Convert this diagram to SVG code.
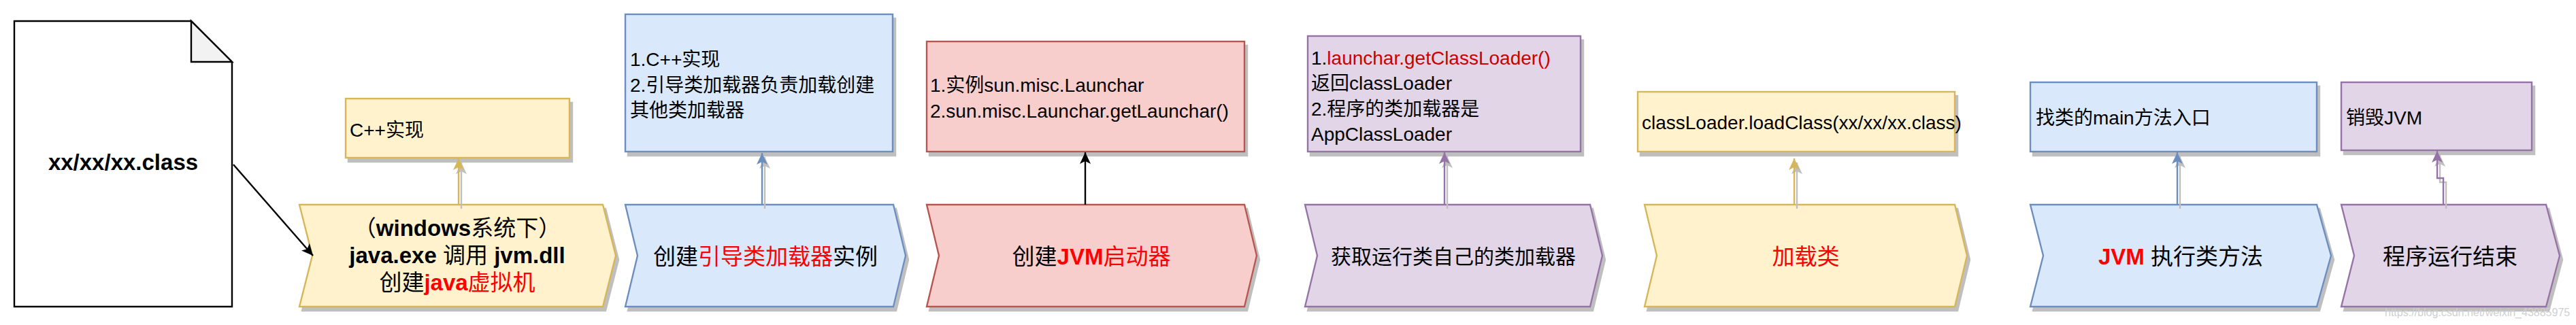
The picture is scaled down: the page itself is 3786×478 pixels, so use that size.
<svg xmlns="http://www.w3.org/2000/svg" width="3786" height="478" viewBox="0 0 3786 478">
<style>
text{font-family:"Liberation Sans","Noto Sans CJK SC",sans-serif;fill:#000}
.big{font-size:33px}
.sm{font-size:28px}
.b{font-weight:bold}
.r{fill:#ff0000}
.dr{fill:#cc0000}
.y{fill:#fff2cc;stroke:#d6b656;stroke-width:2.4}
.bl{fill:#dae8fc;stroke:#6c8ebf;stroke-width:2.4}
.rd{fill:#f8cecc;stroke:#b85450;stroke-width:2.4}
.pu{fill:#e1d5e7;stroke:#9673a6;stroke-width:2.4}
.ln{fill:none;stroke-width:2.4}
</style>
<defs>
<filter id="sh" filterUnits="userSpaceOnUse" x="0" y="0" width="3786" height="478">
<feFlood flood-color="#bfbfbf"/>
<feComposite in2="SourceAlpha" operator="in"/>
<feOffset dx="4" dy="6"/>
<feMerge><feMergeNode/><feMergeNode in="SourceGraphic"/></feMerge>
</filter>
<marker id="aK" markerUnits="userSpaceOnUse" markerWidth="18" markerHeight="16" refX="17" refY="8" orient="auto"><path d="M0,0 L17,8 L0,16 L4,8 Z" fill="#000"/></marker>
<marker id="aY" markerUnits="userSpaceOnUse" markerWidth="18" markerHeight="16" refX="17" refY="8" orient="auto"><path d="M0,0 L17,8 L0,16 L4,8 Z" fill="#d6b656"/></marker>
<marker id="aB" markerUnits="userSpaceOnUse" markerWidth="18" markerHeight="16" refX="17" refY="8" orient="auto"><path d="M0,0 L17,8 L0,16 L4,8 Z" fill="#6c8ebf"/></marker>
<marker id="aP" markerUnits="userSpaceOnUse" markerWidth="18" markerHeight="16" refX="17" refY="8" orient="auto"><path d="M0,0 L17,8 L0,16 L4,8 Z" fill="#9673a6"/></marker>
</defs>
<rect width="3786" height="478" fill="#fff"/>

<g id="doc">
<path d="M21,31 L281,31 L341,91 L341,451 L21,451 Z" fill="#fff" stroke="#000" stroke-width="2.4"/>
<path d="M281,31 L281,91 L341,91 Z" fill="#f2f2f2" stroke="#000" stroke-width="2.4" stroke-linejoin="miter"/>
<text class="big b" x="181" y="250" text-anchor="middle">xx/xx/xx.class</text>
</g>

<g id="step1" filter="url(#sh)">
<path class="y" d="M440,301 L886,301 L905,376 L886,451 L440,451 L459,376 Z"/>
</g>
<g id="step1-text">
<text class="big" x="672" y="347" text-anchor="middle">（<tspan class="b">windows</tspan>系统下）</text>
<text class="big" x="672" y="387" text-anchor="middle"><tspan class="b">java.exe</tspan> 调用 <tspan class="b">jvm.dll</tspan></text>
<text class="big" x="672" y="427" text-anchor="middle">创建<tspan class="b r">java</tspan><tspan class="r">虚拟机</tspan></text>
</g>
<g id="note1" filter="url(#sh)"><rect class="y" x="508" y="145" width="329" height="87"/></g>
<text class="sm" x="514" y="201">C++实现</text>

<g id="step2" filter="url(#sh)"><path class="bl" d="M919,301 L1313,301 L1331,376 L1313,451 L919,451 L937,376 Z"/></g>
<text class="big" x="1125" y="389" text-anchor="middle">创建<tspan class="r">引导类加载器</tspan>实例</text>
<g id="note2" filter="url(#sh)"><rect class="bl" x="919" y="21" width="393" height="202"/></g>
<g id="note2-text">
<text class="sm" x="926" y="97">1.C++实现</text>
<text class="sm" x="926" y="135">2.引导类加载器负责加载创建</text>
<text class="sm" x="926" y="172">其他类加载器</text>
</g>

<g id="step3" filter="url(#sh)"><path class="rd" d="M1362,301 L1829,301 L1847,376 L1829,451 L1362,451 L1380,376 Z"/></g>
<text class="big" x="1604" y="389" text-anchor="middle">创建<tspan class="b r">JVM</tspan><tspan class="r">启动器</tspan></text>
<g id="note3" filter="url(#sh)"><rect class="rd" x="1362" y="61" width="467" height="162"/></g>
<g id="note3-text">
<text class="sm" x="1367" y="135">1.实例sun.misc.Launchar</text>
<text class="sm" x="1367" y="173">2.sun.misc.Launchar.getLaunchar()</text>
</g>

<g id="step4" filter="url(#sh)"><path class="pu" d="M1918,301 L2337,301 L2355,376 L2337,451 L1918,451 L1936,376 Z"/></g>
<text x="2136" y="388" text-anchor="middle" style="font-size:30px">获取运行类自己的类加载器</text>
<g id="note4" filter="url(#sh)"><rect class="pu" x="1922" y="53" width="401" height="170"/></g>
<g id="note4-text">
<text class="sm" x="1927" y="95">1.<tspan class="dr">launchar.getClassLoader()</tspan></text>
<text class="sm" x="1927" y="132">返回classLoader</text>
<text class="sm" x="1927" y="170">2.程序的类加载器是</text>
<text class="sm" x="1927" y="207">AppClassLoader</text>
</g>

<g id="step5" filter="url(#sh)"><path class="y" d="M2417,301 L2873,301 L2891,376 L2873,451 L2417,451 L2435,376 Z"/></g>
<text class="big r" x="2654" y="389" text-anchor="middle">加载类</text>
<g id="note5" filter="url(#sh)"><rect class="y" x="2407" y="135" width="466" height="88"/></g>
<text class="sm" x="2413" y="190">classLoader.loadClass(xx/xx/xx.class)</text>

<g id="step6" filter="url(#sh)"><path class="bl" d="M2984,301 L3405,301 L3426,376 L3405,451 L2984,451 L3003,376 Z"/></g>
<text class="big" x="3205" y="389" text-anchor="middle"><tspan class="b r">JVM</tspan> 执行类方法</text>
<g id="note6" filter="url(#sh)"><rect class="bl" x="2984" y="121" width="421" height="102"/></g>
<text class="sm" x="2992" y="183">找类的main方法入口</text>

<g id="step7" filter="url(#sh)"><path class="pu" d="M3441,301 L3742,301 L3762,376 L3742,451 L3441,451 L3460,376 Z"/></g>
<text class="big" x="3601" y="389" text-anchor="middle">程序运行结束</text>
<g id="note7" filter="url(#sh)"><rect class="pu" x="3441" y="121" width="280" height="100"/></g>
<text class="sm" x="3448" y="183">销毁JVM</text>

<g id="connectors">
<path class="ln" d="M343,242 L460,376" stroke="#000" marker-end="url(#aK)"/>
<path class="ln" d="M674,301 L674,233" stroke="#d6b656" marker-end="url(#aY)" filter="url(#sh)"/>
<path class="ln" d="M1120,301 L1120,225" stroke="#6c8ebf" marker-end="url(#aB)" filter="url(#sh)"/>
<path class="ln" d="M1595,301 L1595,224" stroke="#000" marker-end="url(#aK)"/>
<path class="ln" d="M2123,301 L2123,224" stroke="#9673a6" marker-end="url(#aP)" filter="url(#sh)"/>
<path class="ln" d="M2637,301 L2637,233" stroke="#d6b656" marker-end="url(#aY)" filter="url(#sh)"/>
<path class="ln" d="M3200,301 L3200,224" stroke="#6c8ebf" marker-end="url(#aB)" filter="url(#sh)"/>
<path class="ln" d="M3591,301 L3591,262 L3582,262 L3582,222" stroke="#9673a6" marker-end="url(#aP)" filter="url(#sh)"/>
</g>

<text x="3505" y="465" style="font-size:16px;fill:#d0d0d0">https://blog.csdn.net/weixin_43885975</text>
</svg>
